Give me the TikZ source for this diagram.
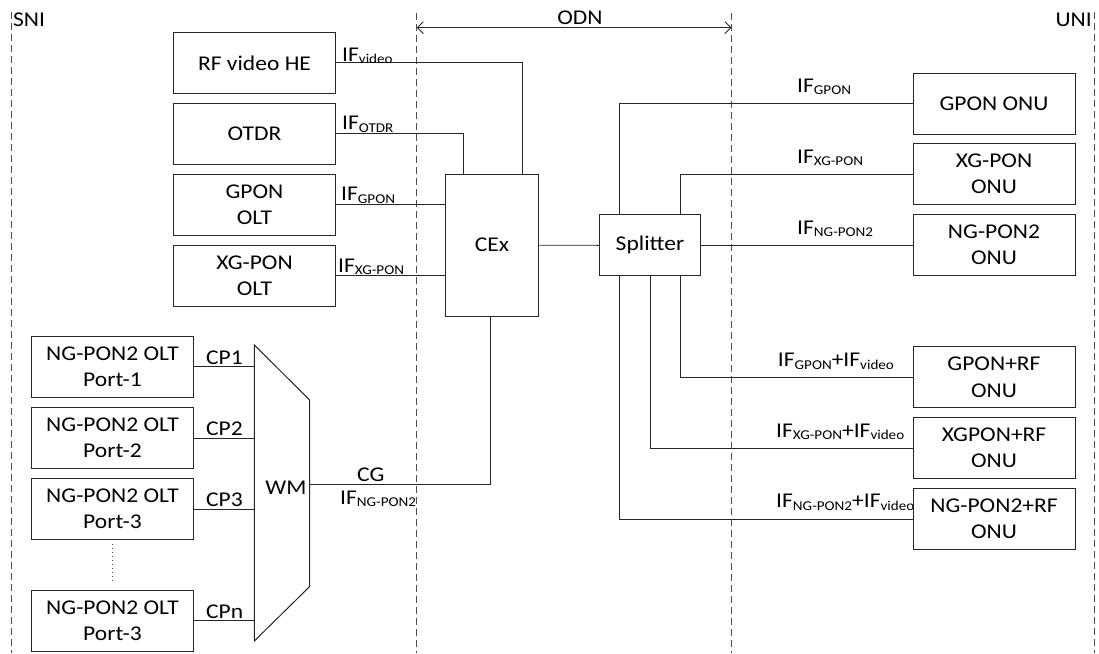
\documentclass[tikz,border=0pt]{standalone}
\usepackage{fontspec}
\setmainfont[FakeStretch=1.12]{Carlito}
\usetikzlibrary{arrows.meta}

% lowered small text for interface subscripts
\newcommand\lowsub[1]{\raisebox{-2.5pt}{\fontsize{13.5}{13.5}\selectfont #1}}

\begin{document}
\begin{tikzpicture}[x=1pt,y=-1pt,
  every node/.style={font=\fontsize{21}{26.5}\selectfont, text=black},
  box/.style={draw=black!85, line width=1pt, minimum width=162pt, minimum height=61pt, align=center, inner sep=0pt},
  wire/.style={draw=black!85, line width=0.9pt},
  border/.style={draw=black!70, line width=0.9pt, dash pattern=on 7pt off 4pt},
  lbl/.style={anchor=base west, inner sep=0pt},
  barb/.style={{Straight Barb[length=6pt,width=12pt]}-{Straight Barb[length=6pt,width=12pt]}},
]
\useasboundingbox (0,0) rectangle (1099,653);

% reference planes
\coordinate (sniT) at (11.5,12);   \coordinate (sniB) at (11.5,653);
\coordinate (odnLT) at (416.7,13); \coordinate (odnLB) at (416.7,653);
\coordinate (odnRT) at (731.5,13); \coordinate (odnRB) at (731.5,653);
\coordinate (uniT) at (1094,12);   \coordinate (uniB) at (1094,653);
\draw[border] (sniT) -- (sniB);
\draw[border] (odnLT) -- (odnLB);
\draw[border] (odnRT) -- (odnRB);
\draw[border] (uniT) -- (uniB);
\node[lbl] (sni) at (13,26) {SNI};
\node[anchor=base east, inner sep=0pt] (uni) at (1092,27) {UNI};
\coordinate (odnA) at (416.7,27.7);
\coordinate (odnB) at (731.5,27.7);
\draw[wire, barb] (odnA) -- (odnB);
\node[anchor=base, inner sep=0pt] (odn) at (580,24) {ODN};

% OLT side
\node[box] (rf)   at (254.5,62.8)  {RF video HE};
\node[box] (otdr) at (254.5,133.6) {OTDR};
\node[box] (golt) at (254.5,204.8) {GPON\\OLT};
\node[box] (xolt) at (254.5,275.6) {XG-PON\\OLT};

\node[box] (p1) at (112.5,366.8) {NG-PON2 OLT\\Port-1};
\node[box] (p2) at (112.5,438)   {NG-PON2 OLT\\Port-2};
\node[box] (p3) at (112.5,509)   {NG-PON2 OLT\\Port-3};
\node[box] (p4) at (112.5,620.7) {NG-PON2 OLT\\Port-3};
\draw[draw=black!70, line width=0.8pt, dash pattern=on 1pt off 3pt]
  ([yshift=-4pt]p3.south) -- ([yshift=7pt]p4.north);

% wavelength multiplexer
\coordinate (wmA) at (254.3,345);
\coordinate (wmB) at (309.7,400);
\coordinate (wmC) at (309.7,586.5);
\coordinate (wmD) at (254.3,641);
\coordinate (wmO) at (309.7,484.3);
\draw[wire, line width=1pt] (wmA) -- (wmB) -- (wmC) -- (wmD) -- cycle;
\node (wm) at (286,488) {WM};

\foreach \p/\t/\y in {p1/CP1/364.4, p2/CP2/435.4, p3/CP3/506.7, p4/CPn/618.5}{
  \draw[wire] (\p.east) -- (\p.east -| wmA);
  \node[lbl] at (206,\y) {\t};
}

% coexistence element and splitter
\node[box, minimum width=93.7pt, minimum height=141.7pt] (cex) at (492,245.2) {CEx};
\node[box, minimum width=101.4pt, minimum height=60.7pt] (spl) at (650,245.3) {Splitter};

\draw[wire] (rf.east) -| ([xshift=30.3pt]cex.north);
\draw[wire] (otdr.east) -| ([xshift=-29pt]cex.north);
\draw[wire] (golt.east) -- (golt.east -| cex.west);
\draw[wire] (xolt.east) -- (xolt.east -| cex.west);
\draw[wire] (wmO) -| ([xshift=-2pt]cex.south);
\draw[wire] (cex.east) -- (spl.west);

\node[lbl] at (342,61)    {IF\lowsub{video}};
\node[lbl] at (342,129.5) {IF\lowsub{OTDR}};
\node[lbl] at (341,200.5) {IF\lowsub{GPON}};
\node[lbl] at (338,272)   {IF\lowsub{XG-PON}};
\node[lbl] at (357,481)   {CG};
\node[lbl] at (340,504)   {IF\lowsub{NG-PON2}};

% ONU side
\node[box] (gonu)  at (994,103.6) {GPON ONU};
\node[box] (xonu)  at (994,174)   {XG-PON\\ONU};
\node[box] (nonu)  at (994,244.7) {NG-PON2\\ONU};
\node[box] (grf)   at (994,377.2) {GPON+RF\\ONU};
\node[box] (xrf)   at (994,448)   {XGPON+RF\\ONU};
\node[box] (nrf)   at (994,519)   {NG-PON2+RF\\ONU};

\draw[wire] (gonu.west) -| ([xshift=-30.7pt]spl.north);
\draw[wire] (xonu.west) -| ([xshift=30.3pt]spl.north);
\draw[wire] (spl.east) -- (spl.east -| nonu.west);
\draw[wire] (grf.west) -| ([xshift=30.3pt]spl.south);
\draw[wire] (xrf.west) -| (spl.south);
\draw[wire] (nrf.west) -| ([xshift=-30.7pt]spl.south);

\node[lbl] at (797,92.3)  {IF\lowsub{GPON}};
\node[lbl] at (797,163)   {IF\lowsub{XG-PON}};
\node[lbl] at (797,234)   {IF\lowsub{NG-PON2}};
\node[lbl] at (777.7,366.7) {IF\lowsub{GPON}+IF\lowsub{video}};
\node[lbl] at (776,437.3)   {IF\lowsub{XG-PON}+IF\lowsub{video}};
\node[lbl] at (776,507.7)   {IF\lowsub{NG-PON2}+IF\lowsub{video}};
\end{tikzpicture}
\end{document}
